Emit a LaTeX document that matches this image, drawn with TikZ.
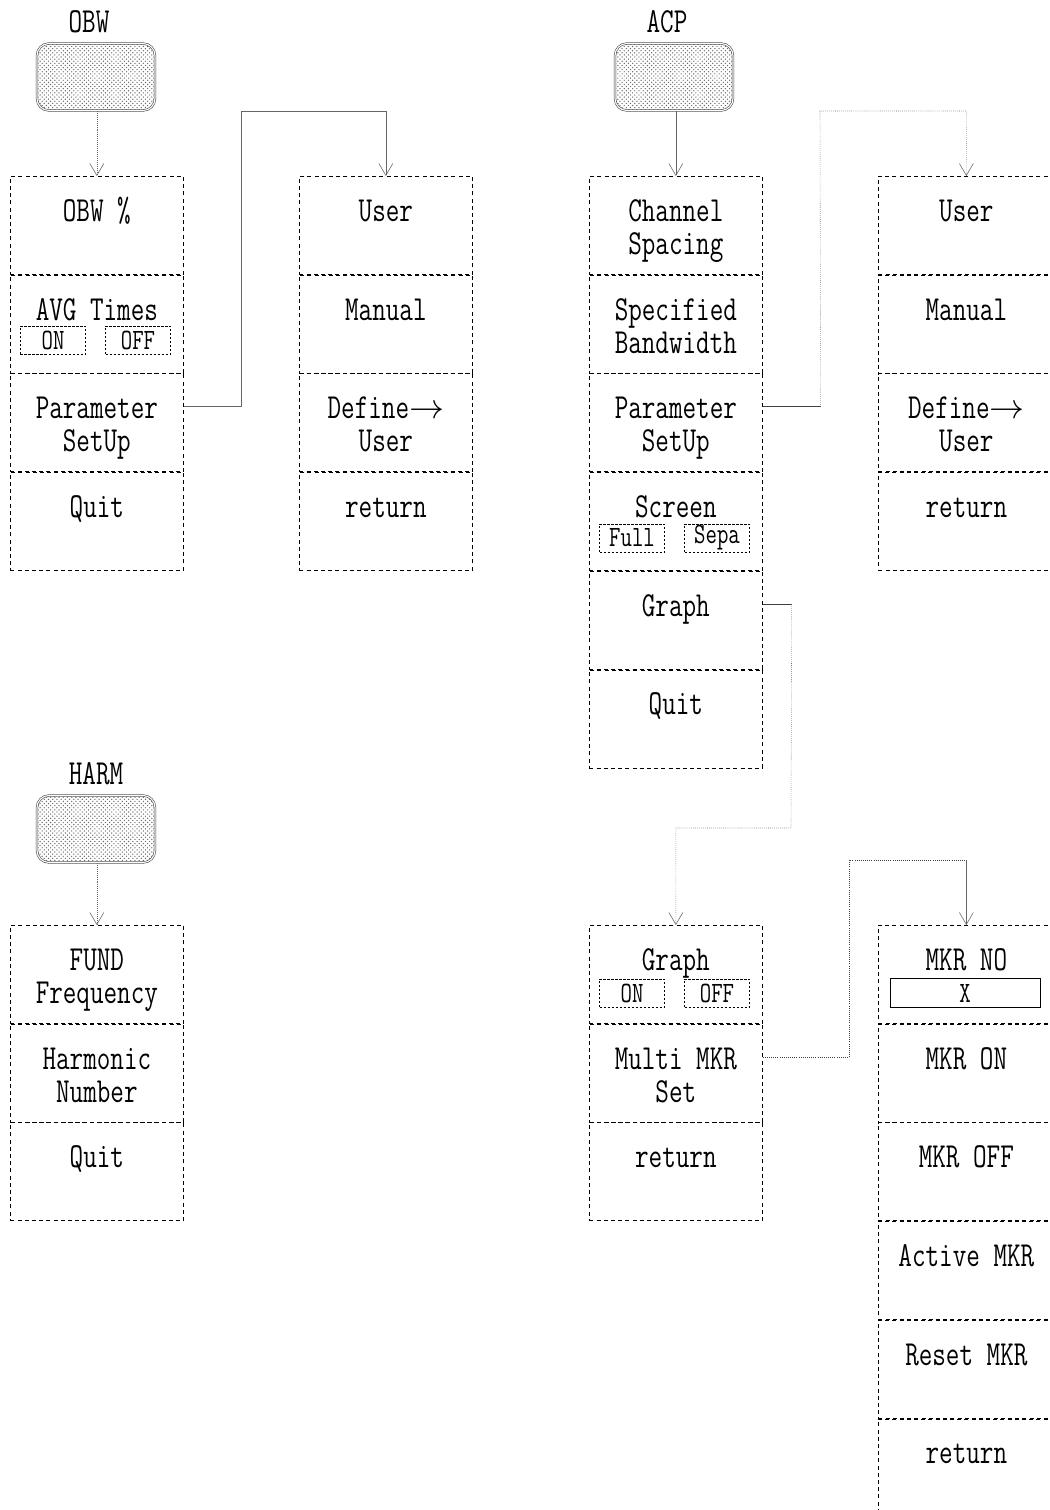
\documentclass[tikz,border=0pt]{standalone}
\usepackage{fontspec}
\usetikzlibrary{arrows.meta,positioning,patterns}
\newfontfamily\menufont[FakeStretch=0.75]{Latin Modern Mono}
\newcommand{\menutype}{\menufont\fontsize{25}{23.5}\selectfont}
\newcommand{\togtype}{\menufont\fontsize{21}{20}\selectfont}
\newcommand{\duo}[2]{#1\rule{0pt}{\dimexpr0.7\baselineskip+3mm\relax}\\#2\strut}
\tikzset{
  cell/.style={draw, dash pattern=on 1mm off 0.8mm, line width=0.5pt, minimum width=43.25mm, minimum height=24.5mm, inner sep=0pt, align=center, font=\menutype},
  cutcell/.style={cell, minimum width=44mm},
  toggle/.style={draw, dash pattern=on 0.6mm off 0.4mm, line width=0.4pt, minimum width=16.25mm, minimum height=7mm, inner sep=0pt, font=\togtype},
  slot/.style={draw, line width=0.5pt, minimum width=37.5mm, minimum height=7.25mm, inner sep=0pt, font=\togtype},
  keycap/.style={draw=black!75, double=white, double distance=0.8pt, rounded corners=3mm, minimum width=29.5mm, minimum height=16.75mm, pattern=crosshatch dots, pattern color=black!60},
  keyname/.style={inner sep=0pt, font=\menutype},
  link/.style={-{Straight Barb[length=3mm, width=3.5mm]}, draw=black!60, line width=0.4pt},
  wire/.style={draw=black!75, line width=0.5pt},
}
\begin{document}
\begin{tikzpicture}[x=0.25mm, y=-0.25mm]
\useasboundingbox (0,0) rectangle (1050,1510);
\clip (0,0) rectangle (1050,1510);

% OBW
\node[keyname] (obwname) at (89,22) {OBW};
\node[keycap] (obwkey) at (96,77) {};
\node[cell, anchor=north west] (obw1) at (10,176) {\duo{OBW \%}{}};
\node[cell, below=0pt of obw1] (obw2) {\duo{AVG Times}{}};
\node[cell, below=0pt of obw2] (obw3) {\duo{Parameter}{SetUp}};
\node[cell, below=0pt of obw3] (obw4) {\duo{Quit}{}};
\node[toggle] (obwon) at (53,340) {ON};
\node[toggle] (obwoff) at (138,340) {OFF};
\draw[link, densely dotted] (obwkey.south -| obw1.north) -- (obw1.north);

\node[cell, anchor=north west] (user1) at (299,176) {\duo{User}{}};
\node[cell, below=0pt of user1] (user2) {\duo{Manual}{}};
\node[cell, below=0pt of user2] (user3) {\duo{Define$\rightarrow$}{User}};
\node[cell, below=0pt of user3] (user4) {\duo{return}{}};
\coordinate (obwup) at (241,111);
\draw[link] ([yshift=4mm]obw3.east) -| (obwup) -| (user1.north);

% ACP
\node[keyname] (acpname) at (667,22) {ACP};
\node[keycap] (acpkey) at (674,77) {};
\node[cell, anchor=north west] (acp1) at (589,176) {\duo{Channel}{Spacing}};
\node[cell, below=0pt of acp1] (acp2) {\duo{Specified}{Bandwidth}};
\node[cell, below=0pt of acp2] (acp3) {\duo{Parameter}{SetUp}};
\node[cell, below=0pt of acp3] (acp4) {\duo{Screen}{}};
\node[cell, below=0pt of acp4] (acp5) {\duo{Graph}{}};
\node[cell, below=0pt of acp5] (acp6) {\duo{Quit}{}};
\node[toggle] (acpfull) at (632,538) {Full};
\node[toggle] (acpsepa) at (717,538) {Sepa};
\draw[link] (acpkey.south -| acp1.north) -- (acp1.north);

\node[cutcell, anchor=north west] (user21) at (878,176) {\duo{User}{}};
\node[cutcell, below=0pt of user21] (user22) {\duo{Manual}{}};
\node[cutcell, below=0pt of user22] (user23) {\duo{Define$\rightarrow$}{User}};
\node[cutcell, below=0pt of user23] (user24) {\duo{return}{}};
\draw[wire] ([yshift=4mm]acp3.east) -- ++(58,0) coordinate (acpturn);
\coordinate (acpup) at (820,111);
\draw[link, densely dotted] (acpturn) -- (acpup) -| (user21.north);

% Graph
\node[cell, anchor=north west] (gr1) at (589,925) {\duo{Graph}{}};
\node[cell, below=0pt of gr1] (gr2) {\duo{Multi MKR}{Set}};
\node[cell, below=0pt of gr2] (gr3) {\duo{return}{}};
\node[toggle] (gron) at (632,993) {ON};
\node[toggle] (groff) at (717,993) {OFF};
\draw[wire] ([yshift=4mm]acp5.east) -- ++(29,0) coordinate (grturn);
\coordinate (grdown) at (791,828);
\draw[link, densely dotted] (grturn) -- (grdown) -| (gr1.north);

\node[cutcell, anchor=north west] (mkr1) at (878,925) {\duo{MKR NO}{}};
\node[cutcell, below=0pt of mkr1] (mkr2) {\duo{MKR ON}{}};
\node[cutcell, below=0pt of mkr2] (mkr3) {\duo{MKR OFF}{}};
\node[cutcell, below=0pt of mkr3] (mkr4) {\duo{Active MKR}{}};
\node[cutcell, below=0pt of mkr4] (mkr5) {\duo{Reset MKR}{}};
\node[cutcell, below=0pt of mkr5] (mkr6) {\duo{return}{}};
\node[slot] (mkrx) at (965,993) {X};
\coordinate (mkrup) at (849,860);
\coordinate (mkrtop) at (mkrup -| mkr1.north);
\draw[wire, densely dotted] ([yshift=4mm]gr2.east) -| (mkrup) -- (mkrtop);
\draw[link] (mkrtop) -- (mkr1.north);

% HARM
\node[keyname] (harmname) at (96,774) {HARM};
\node[keycap] (harmkey) at (96,829) {};
\node[cell, anchor=north west] (harm1) at (10,925) {\duo{FUND}{Frequency}};
\node[cell, below=0pt of harm1] (harm2) {\duo{Harmonic}{Number}};
\node[cell, below=0pt of harm2] (harm3) {\duo{Quit}{}};
\draw[link, densely dotted] (harmkey.south -| harm1.north) -- (harm1.north);
\end{tikzpicture}
\end{document}
